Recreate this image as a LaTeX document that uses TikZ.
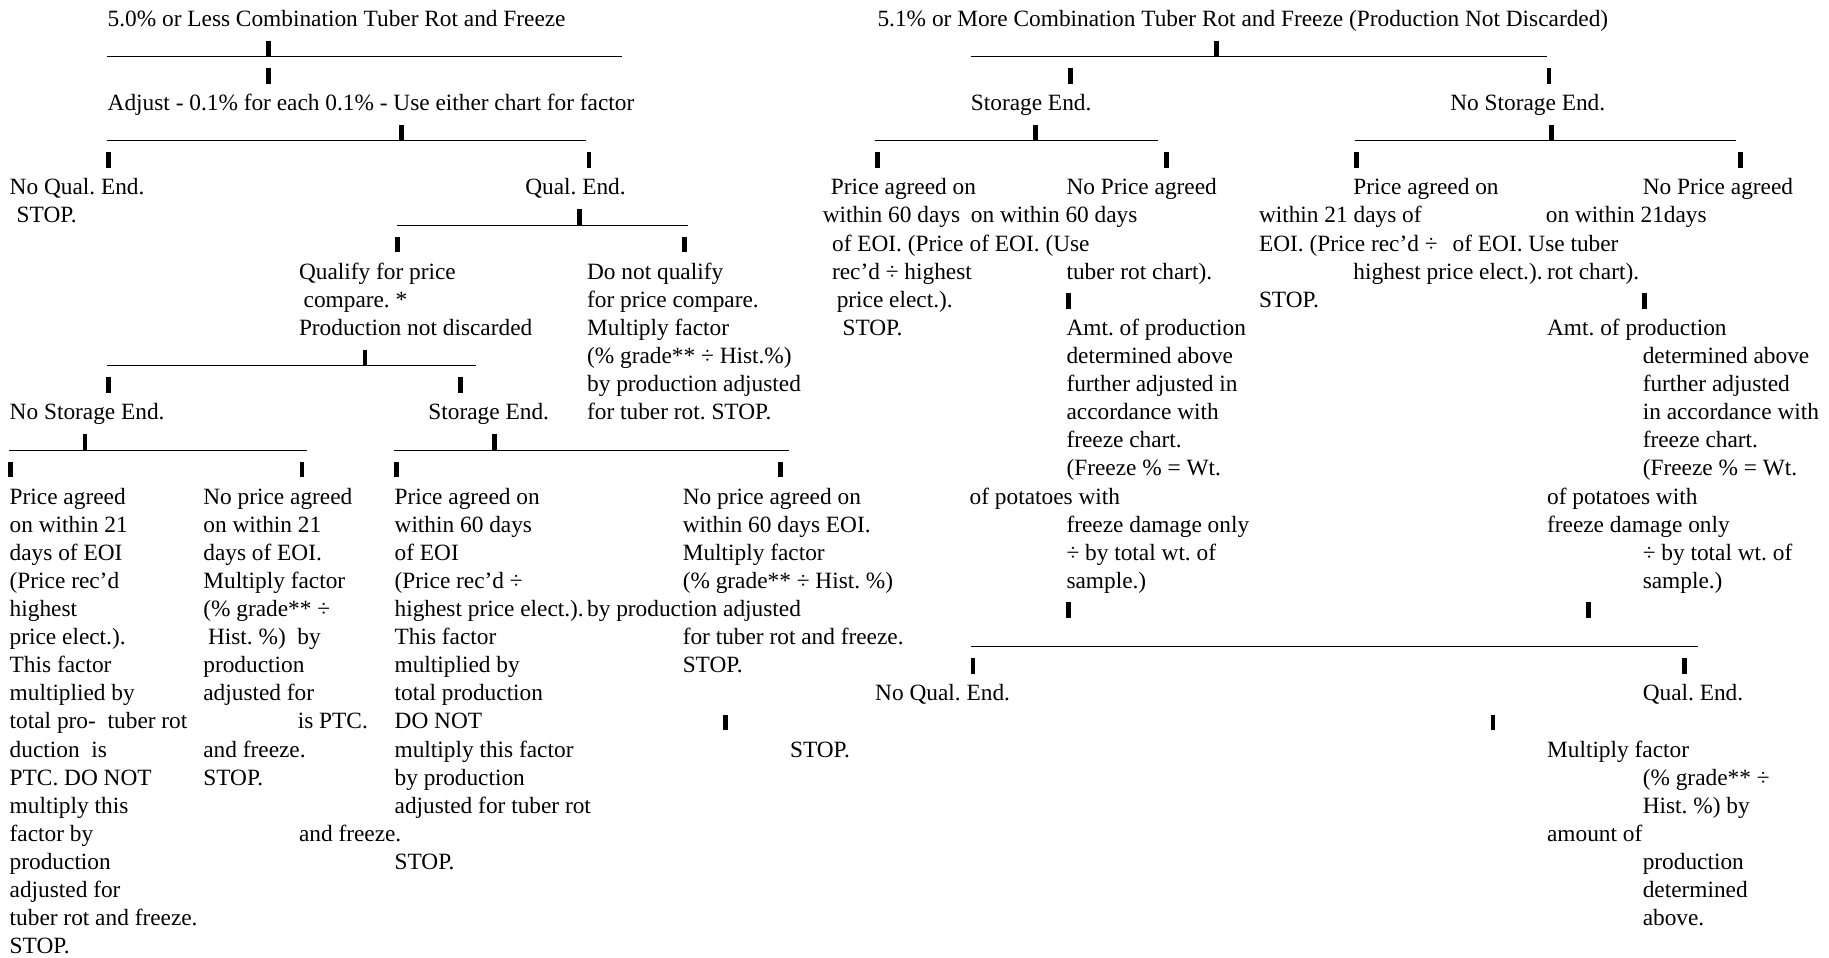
\documentclass[tikz,border=0pt]{standalone}
\usepackage{fontspec}
\setmainfont{Liberation Serif}
\frenchspacing
\tikzstyle{txt} = [anchor=base west, inner sep=0pt, font=\fontsize{12}{14.46}\selectfont]
\tikzstyle{stem} = [line width=2.4pt]
\tikzstyle{ruleline} = [line width=0.5pt]

\begin{document}
\begin{tikzpicture}[x=0.6pt, y=-14.46pt]
    \useasboundingbox (0,-0.93) rectangle (1568,33.14);

    % 5.0% or less
    \node[txt] (lowtitle) at (92,0) {5.0\% or Less Combination Tuber Rot and Freeze};
    \draw[ruleline] (92,1.08) -- (533,1.08);
    \draw[stem] (230,1.08) -- +(0,-0.56);
    \draw[stem] (230,2.05) -- +(0,-0.56);
    \node[txt] (adjust) at (92,3) {Adjust - 0.1\% for each 0.1\% - Use either chart for factor};
    \draw[ruleline] (92,4.08) -- (502,4.08);
    \draw[stem] (344,4.08) -- +(0,-0.56);
    \foreach \x in {93,505} \draw[stem] (\x,5.05) -- +(0,-0.56);
    \node[txt] (noqual) at (8,6) {No Qual. End.};
    \node[txt] (noqualstop) at (14,7) {STOP.};
    \node[txt] (qual) at (450,6) {Qual. End.};
    \draw[ruleline] (340,7.08) -- (590,7.08);
    \draw[stem] (497,7.08) -- +(0,-0.56);
    \foreach \x in {341,587} \draw[stem] (\x,8.05) -- +(0,-0.56);
    \node[txt] (qualify1) at (256,9) {Qualify for price};
    \node[txt] (qualify2) at (260,10) {compare. *};
    \node[txt] (qualify3) at (256,11) {Production not discarded};
    \foreach \t [count=\i from 9] in {Do not qualify, for price compare., Multiply factor,
        {(\% grade** ÷ Hist.\%)}, by production adjusted, for tuber rot. STOP.}
        \node[txt] (notq\i) at (503,\i) {\t};
    \draw[ruleline] (92,12.08) -- (408,12.08);
    \draw[stem] (313,12.08) -- +(0,-0.56);
    \foreach \x in {93,395} \draw[stem] (\x,13.05) -- +(0,-0.56);
    \node[txt] (nostorage) at (8,14) {No Storage End.};
    \node[txt] (storage) at (367,14) {Storage End.};
    \draw[ruleline] (8,15.08) -- (263,15.08);
    \draw[stem] (73,15.08) -- +(0,-0.56);
    \draw[ruleline] (338,15.08) -- (676,15.08);
    \draw[stem] (424,15.08) -- +(0,-0.56);
    \foreach \x in {9,259,340,669} \draw[stem] (\x,16.05) -- +(0,-0.56);

    % price agreed, 21 days
    \foreach \t [count=\i from 17] in {Price agreed, on within 21, days of EOI, {(Price rec’d}, highest,
        price elect.)., This factor, multiplied by, total pro-, duction~~is, PTC. DO NOT, multiply this,
        factor by, production, adjusted for, tuber rot and freeze., STOP.}
        \node[txt] (cola\i) at (8,\i) {\t};
    % no price agreed, 21 days
    \foreach \t [count=\i from 17] in {No price agreed, on within 21, days of EOI., Multiply factor,
        {(\% grade** ÷}}
        \node[txt] (colb\i) at (174,\i) {\t};
    \node[txt] (colb22) at (178,22) {Hist. \%)~~by};
    \node[txt] (colb23) at (174,23) {production};
    \node[txt] (colb24) at (174,24) {adjusted for};
    \node[txt] (colb25) at (92,25) {tuber rot};
    \node[txt] (colb25b) at (255,25) {is PTC.};
    \node[txt] (colb26) at (174,26) {and freeze.};
    \node[txt] (colb27) at (174,27) {STOP.};
    % price agreed, 60 days
    \foreach \t [count=\i from 17] in {Price agreed on, within 60 days, of EOI, {(Price rec’d ÷},
        highest price elect.)., This factor, multiplied by, total production, DO NOT,
        multiply this factor, by production, adjusted for tuber rot}
        \node[txt] (colc\i) at (338,\i) {\t};
    \node[txt] (colc29) at (256,29) {and freeze.};
    \node[txt] (colc30) at (338,30) {STOP.};
    % no price agreed, 60 days
    \foreach \t [count=\i from 17] in {No price agreed on, within 60 days EOI., Multiply factor,
        {(\% grade** ÷ Hist. \%)}}
        \node[txt] (cold\i) at (585,\i) {\t};
    \node[txt] (cold21) at (503,21) {by production adjusted};
    \node[txt] (cold22) at (585,22) {for tuber rot and freeze.};
    \node[txt] (cold23) at (585,23) {STOP.};

    % 5.1% or more
    \node[txt] (hightitle) at (752,0) {5.1\% or More Combination Tuber Rot and Freeze (Production Not Discarded)};
    \draw[ruleline] (832,1.08) -- (1326,1.08);
    \draw[stem] (1043,1.08) -- +(0,-0.56);
    \foreach \x in {918,1328} \draw[stem] (\x,2.05) -- +(0,-0.56);
    \node[txt] (rstorage) at (832,3) {Storage End.};
    \node[txt] (rnostorage) at (1243,3) {No Storage End.};
    \draw[ruleline] (750,4.08) -- (993,4.08);
    \draw[stem] (888,4.08) -- +(0,-0.56);
    \draw[ruleline] (1162,4.08) -- (1488,4.08);
    \draw[stem] (1330,4.08) -- +(0,-0.56);
    \foreach \x in {752,1000,1163,1492} \draw[stem] (\x,5.05) -- +(0,-0.56);

    % storage end.
    \node[txt] (cole6) at (712,6) {Price agreed on};
    \node[txt] (cole7) at (705,7) {within 60 days};
    \node[txt] (cole8) at (713,8) {of EOI. (Price};
    \node[txt] (cole9) at (713,9) {rec’d ÷ highest};
    \node[txt] (cole10) at (717,10) {price elect.).};
    \node[txt] (cole11) at (722,11) {STOP.};
    \node[txt] (colf6) at (914,6) {No Price agreed};
    \node[txt] (colf7) at (832,7) {on within 60 days};
    \node[txt] (colf8) at (831,8) {of EOI. (Use};
    \node[txt] (colf9) at (914,9) {tuber rot chart).};
    \draw[stem] (916,10.05) -- +(0,-0.56);
    \foreach \t [count=\i from 11] in {Amt. of production, determined above, further adjusted in,
        accordance with, freeze chart., {(Freeze \% = Wt.}}
        \node[txt] (colf\i) at (914,\i) {\t};
    \node[txt] (colf17) at (831,17) {of potatoes with};
    \foreach \t [count=\i from 18] in {freeze damage only, ÷ by total wt. of, sample.)}
        \node[txt] (colf\i) at (914,\i) {\t};
    \draw[stem] (916,21.05) -- +(0,-0.56);

    % no storage end.
    \node[txt] (colg6) at (1160,6) {Price agreed on};
    \node[txt] (colg7) at (1079,7) {within 21 days of};
    \node[txt] (colg8) at (1079,8) {EOI. (Price rec’d ÷};
    \node[txt] (colg9) at (1160,9) {highest price elect.).};
    \node[txt] (colg10) at (1079,10) {STOP.};
    \node[txt] (colh6) at (1408,6) {No Price agreed};
    \node[txt] (colh7) at (1325,7) {on within 21days};
    \node[txt] (colh8) at (1245,8) {of EOI. Use tuber};
    \node[txt] (colh9) at (1326,9) {rot chart).};
    \draw[stem] (1410,10.05) -- +(0,-0.56);
    \node[txt] (colh11) at (1326,11) {Amt. of production};
    \foreach \t [count=\i from 12] in {determined above, further adjusted, in accordance with,
        freeze chart., {(Freeze \% = Wt.}}
        \node[txt] (colh\i) at (1408,\i) {\t};
    \node[txt] (colh17) at (1326,17) {of potatoes with};
    \node[txt] (colh18) at (1326,18) {freeze damage only};
    \node[txt] (colh19) at (1408,19) {÷ by total wt. of};
    \node[txt] (colh20) at (1408,20) {sample.)};
    \draw[stem] (1362,21.05) -- +(0,-0.56);

    % qual. end. or not
    \draw[ruleline] (832,22.08) -- (1456,22.08);
    \foreach \x in {834,1444} \draw[stem] (\x,23.05) -- +(0,-0.56);
    \node[txt] (rnoqual) at (750,24) {No Qual. End.};
    \node[txt] (rqual) at (1408,24) {Qual. End.};
    \foreach \x in {622,1280} \draw[stem] (\x,25.05) -- +(0,-0.56);
    \node[txt] (rnoqualstop) at (677,26) {STOP.};
    \node[txt] (rmult26) at (1326,26) {Multiply factor};
    \node[txt] (rmult27) at (1408,27) {(\% grade** ÷};
    \node[txt] (rmult28) at (1408,28) {Hist. \%) by};
    \node[txt] (rmult29) at (1326,29) {amount of};
    \foreach \t [count=\i from 30] in {production, determined, above.}
        \node[txt] (rmult\i) at (1408,\i) {\t};
\end{tikzpicture}
\end{document}
